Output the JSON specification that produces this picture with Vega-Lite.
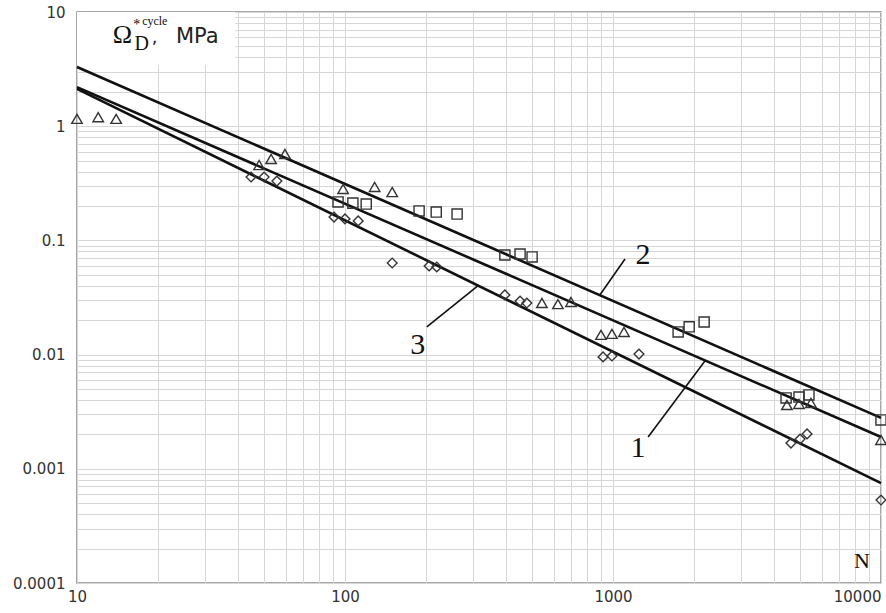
{
  "$schema": "https://vega.github.io/schema/vega-lite/v6.json",
  "width": 804,
  "height": 571,
  "autosize": {"type": "none"},
  "padding": {"left": 77, "top": 12, "right": 5, "bottom": 30},
  "background": "white",
  "config": {
    "view": {"stroke": "#8a8a8a", "strokeWidth": 1.5},
    "axis": {
      "labelFont": "DejaVu Sans",
      "labelFontSize": 15,
      "labelColor": "#333333",
      "grid": true,
      "gridColor": "#d6d6d6",
      "gridWidth": 1,
      "ticks": false,
      "domain": false,
      "labelOverlap": false,
      "labelBound": false,
      "title": null
    }
  },
  "datasets": {
    "points": [
      {"N": 10, "v": 1.16, "s": "tri"},
      {"N": 12, "v": 1.2, "s": "tri"},
      {"N": 14, "v": 1.16, "s": "tri"},
      {"N": 47.8, "v": 0.457, "s": "tri"},
      {"N": 53, "v": 0.516, "s": "tri"},
      {"N": 59.7, "v": 0.571, "s": "tri"},
      {"N": 98.4, "v": 0.282, "s": "tri"},
      {"N": 129, "v": 0.294, "s": "tri"},
      {"N": 150, "v": 0.265, "s": "tri"},
      {"N": 543, "v": 0.0283, "s": "tri"},
      {"N": 623, "v": 0.0277, "s": "tri"},
      {"N": 697, "v": 0.0289, "s": "tri"},
      {"N": 902, "v": 0.0149, "s": "tri"},
      {"N": 991, "v": 0.0152, "s": "tri"},
      {"N": 1099, "v": 0.0158, "s": "tri"},
      {"N": 4456, "v": 0.00362, "s": "tri"},
      {"N": 4943, "v": 0.0037, "s": "tri"},
      {"N": 5478, "v": 0.00377, "s": "tri"},
      {"N": 10000, "v": 0.00179, "s": "tri"},
      {"N": 94.2, "v": 0.217, "s": "sq"},
      {"N": 107, "v": 0.212, "s": "sq"},
      {"N": 120, "v": 0.208, "s": "sq"},
      {"N": 189, "v": 0.181, "s": "sq"},
      {"N": 219, "v": 0.177, "s": "sq"},
      {"N": 262, "v": 0.17, "s": "sq"},
      {"N": 395, "v": 0.0745, "s": "sq"},
      {"N": 450, "v": 0.076, "s": "sq"},
      {"N": 499, "v": 0.0716, "s": "sq"},
      {"N": 1750, "v": 0.0158, "s": "sq"},
      {"N": 1924, "v": 0.0175, "s": "sq"},
      {"N": 2188, "v": 0.0193, "s": "sq"},
      {"N": 4425, "v": 0.00417, "s": "sq"},
      {"N": 4943, "v": 0.00425, "s": "sq"},
      {"N": 5385, "v": 0.00443, "s": "sq"},
      {"N": 10000, "v": 0.00268, "s": "sq"},
      {"N": 44.6, "v": 0.359, "s": "dia"},
      {"N": 49.9, "v": 0.359, "s": "dia"},
      {"N": 55.7, "v": 0.331, "s": "dia"},
      {"N": 91, "v": 0.16, "s": "dia"},
      {"N": 100, "v": 0.154, "s": "dia"},
      {"N": 112, "v": 0.148, "s": "dia"},
      {"N": 150, "v": 0.0634, "s": "dia"},
      {"N": 206, "v": 0.0597, "s": "dia"},
      {"N": 220, "v": 0.0585, "s": "dia"},
      {"N": 395, "v": 0.0333, "s": "dia"},
      {"N": 450, "v": 0.0294, "s": "dia"},
      {"N": 477, "v": 0.0283, "s": "dia"},
      {"N": 918, "v": 0.00953, "s": "dia"},
      {"N": 991, "v": 0.00972, "s": "dia"},
      {"N": 1250, "v": 0.0101, "s": "dia"},
      {"N": 4613, "v": 0.00168, "s": "dia"},
      {"N": 4989, "v": 0.00182, "s": "dia"},
      {"N": 5297, "v": 0.00202, "s": "dia"},
      {"N": 10000, "v": 0.000533, "s": "dia"}
    ],
    "fits": [
      {"line": "1", "N": 10, "v": 2.2},
      {"line": "1", "N": 10000, "v": 0.0019},
      {"line": "2", "N": 10, "v": 3.3},
      {"line": "2", "N": 10000, "v": 0.00279},
      {"line": "3", "N": 10, "v": 2.12},
      {"line": "3", "N": 10000, "v": 0.00075}
    ],
    "leaders": [
      {"line": "1", "N": 1352, "v": 0.0019},
      {"line": "1", "N": 2203, "v": 0.0088},
      {"line": "2", "N": 893, "v": 0.0333},
      {"line": "2", "N": 1109, "v": 0.0687},
      {"line": "3", "N": 202, "v": 0.01746},
      {"line": "3", "N": 313, "v": 0.04}
    ],
    "lineLabels": [
      {"t": "1", "N": 1239, "v": 0.00152},
      {"t": "2", "N": 1294, "v": 0.0745},
      {"t": "3", "N": 187, "v": 0.01213}
    ],
    "axisName": [
      {"t": "N", "N": 8492, "v": 0.000156}
    ],
    "box": [
      {"N": 10, "N2": 39, "v": 3.44, "v2": 10}
    ],
    "omega": [{"t": "Ω", "N": 13.6, "v": 5.35}],
    "sub": [{"t": "D", "N": 16.4, "v": 4.64}],
    "star": [{"t": "*", "N": 16.2, "v": 7.1}],
    "sup": [{"t": "cycle", "N": 17.5, "v": 7.75}],
    "comma": [{"t": ",", "N": 19.0, "v": 5.35}],
    "unit": [{"t": "MPa", "N": 23.4, "v": 5.35}]
  },
  "encoding": {
    "x": {
      "field": "N",
      "type": "quantitative",
      "scale": {"type": "log", "domain": [10, 10000], "nice": false},
      "axis": {
        "values": [10, 20, 30, 40, 50, 60, 70, 80, 90, 100, 200, 300, 400, 500, 600, 700, 800, 900, 1000, 2000, 3000, 4000, 5000, 6000, 7000, 8000, 9000, 10000],
        "format": "~g",
        "labelExpr": "indexof(['10','100','1000','10000'], datum.label) >= 0 ? datum.label : ''",
        "labelFlush": false,
        "labelPadding": 6,
        "labelAlign": {"condition": {"test": "datum.value >= 10000", "value": "right"}, "value": "center"}
      }
    },
    "y": {
      "field": "v",
      "type": "quantitative",
      "scale": {"type": "log", "domain": [0.0001, 10], "nice": false},
      "axis": {
        "values": [0.0001, 0.0002, 0.0003, 0.0004, 0.0005, 0.0006, 0.0007, 0.0008, 0.0009, 0.001, 0.002, 0.003, 0.004, 0.005, 0.006, 0.007, 0.008, 0.009, 0.01, 0.02, 0.03, 0.04, 0.05, 0.06, 0.07, 0.08, 0.09, 0.1, 0.2, 0.3, 0.4, 0.5, 0.6, 0.7, 0.8, 0.9, 1, 2, 3, 4, 5, 6, 7, 8, 9, 10],
        "format": "~g",
        "labelExpr": "indexof(['0.0001','0.001','0.01','0.1','1','10'], datum.label) >= 0 ? datum.label : ''",
        "labelPadding": 12
      }
    }
  },
  "layer": [
    {
      "data": {"name": "box"},
      "mark": {"type": "rect", "fill": "white", "stroke": null},
      "encoding": {"x2": {"field": "N2"}, "y2": {"field": "v2"}}
    },
    {
      "data": {"name": "fits"},
      "mark": {"type": "line", "color": "#111111", "strokeWidth": 2.6},
      "encoding": {"detail": {"field": "line", "type": "nominal"}}
    },
    {
      "data": {"name": "leaders"},
      "mark": {"type": "line", "color": "#111111", "strokeWidth": 1.6},
      "encoding": {"detail": {"field": "line", "type": "nominal"}}
    },
    {
      "data": {"name": "points"},
      "mark": {"type": "point", "filled": false, "stroke": "#333333", "strokeWidth": 1.4, "opacity": 1},
      "encoding": {
        "shape": {"field": "s", "type": "nominal", "scale": {"domain": ["tri", "sq", "dia"], "range": ["triangle-up", "square", "diamond"]}, "legend": null},
        "size": {"field": "s", "type": "nominal", "scale": {"domain": ["tri", "sq", "dia"], "range": [110, 95, 75]}, "legend": null}
      }
    },
    {
      "data": {"name": "lineLabels"},
      "mark": {"type": "text", "font": "Liberation Serif", "fontSize": 30, "color": "#111111", "align": "center", "baseline": "middle"},
      "encoding": {"text": {"field": "t"}}
    },
    {
      "data": {"name": "axisName"},
      "mark": {"type": "text", "font": "Liberation Serif", "fontSize": 22, "color": "#111111", "align": "center", "baseline": "middle"},
      "encoding": {"text": {"field": "t"}}
    },
    {
      "data": {"name": "omega"},
      "mark": {"type": "text", "font": "Liberation Serif", "fontSize": 26, "color": "#111111", "align": "left", "baseline": "alphabetic"},
      "encoding": {"text": {"field": "t"}}
    },
    {
      "data": {"name": "sub"},
      "mark": {"type": "text", "font": "Liberation Serif", "fontSize": 20, "color": "#111111", "align": "left", "baseline": "alphabetic"},
      "encoding": {"text": {"field": "t"}}
    },
    {
      "data": {"name": "star"},
      "mark": {"type": "text", "font": "Liberation Serif", "fontSize": 14, "color": "#111111", "align": "left", "baseline": "alphabetic"},
      "encoding": {"text": {"field": "t"}}
    },
    {
      "data": {"name": "sup"},
      "mark": {"type": "text", "font": "Liberation Serif", "fontSize": 12, "color": "#111111", "align": "left", "baseline": "alphabetic"},
      "encoding": {"text": {"field": "t"}}
    },
    {
      "data": {"name": "comma"},
      "mark": {"type": "text", "font": "DejaVu Sans", "fontSize": 18, "color": "#222222", "align": "left", "baseline": "alphabetic"},
      "encoding": {"text": {"field": "t"}}
    },
    {
      "data": {"name": "unit"},
      "mark": {"type": "text", "font": "DejaVu Sans", "fontSize": 21, "color": "#222222", "align": "left", "baseline": "alphabetic"},
      "encoding": {"text": {"field": "t"}}
    }
  ]
}
